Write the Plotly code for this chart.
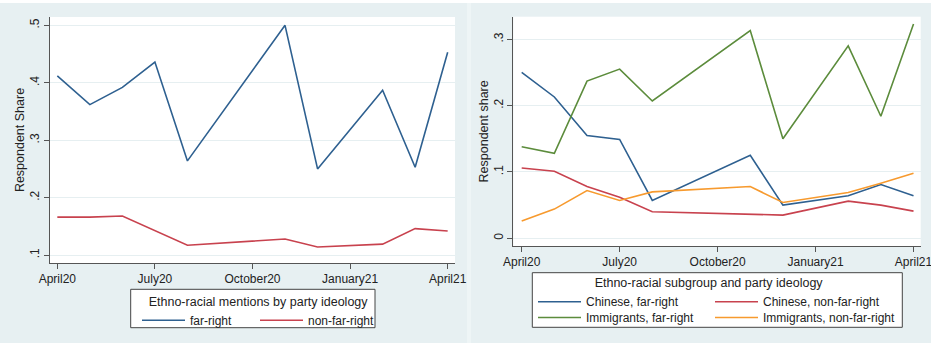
import plotly.graph_objects as go

# ---- data ----
all_months = ["April20", "May20", "June20", "July20", "August20", "September20",
              "October20", "November20", "December20", "January21", "February21",
              "March21", "April21"]
obs_months = ["April20", "May20", "June20", "July20", "August20", "November20",
              "December20", "February21", "March21", "April21"]
tick_labels = ["April20", "July20", "October20", "January21", "April21"]

# Left panel: ethno-racial mentions by party ideology
far_right = [0.412, 0.362, 0.392, 0.436, 0.264, 0.500, 0.250, 0.387, 0.253, 0.453]
non_far_right = [0.166, 0.166, 0.168, 0.142, 0.117, 0.128, 0.114, 0.119, 0.146, 0.142]

# Right panel: subgroup by party ideology
chinese_fr = [0.250, 0.213, 0.155, 0.149, 0.057, 0.125, 0.050, 0.064, 0.081, 0.064]
chinese_nfr = [0.106, 0.101, 0.078, 0.062, 0.040, 0.037, 0.035, 0.056, 0.050, 0.041]
immig_fr = [0.138, 0.128, 0.237, 0.255, 0.207, 0.313, 0.150, 0.290, 0.184, 0.323]
immig_nfr = [0.026, 0.044, 0.072, 0.057, 0.070, 0.078, 0.054, 0.069, 0.083, 0.098]

left_yticks = [0.1, 0.2, 0.3, 0.4, 0.5]
left_yticklabels = [".1", ".2", ".3", ".4", ".5"]
right_yticks = [0, 0.1, 0.2, 0.3]
right_yticklabels = ["0", ".1", ".2", ".3"]

# ---- styles ----
W, H = 931, 343
BLUE = "#2e6090"
RED = "#c8424e"
GREEN = "#5c8c3c"
ORANGE = "#f79a2e"
FONT = "Liberation Sans, Arial, sans-serif"

x_obs = [all_months.index(m) for m in obs_months]
tick_x = [all_months.index(m) for m in tick_labels]


def px(x):
    return x / W


def py(y):
    return 1 - y / H


fig = go.Figure()

lw = 1.6
fig.add_trace(go.Scatter(x=x_obs, y=far_right, mode="lines", name="far-right",
                         line=dict(color=BLUE, width=lw), xaxis="x", yaxis="y",
                         legend="legend", legendwidth=60))
fig.add_trace(go.Scatter(x=x_obs, y=non_far_right, mode="lines", name="non-far-right",
                         line=dict(color=RED, width=lw), xaxis="x", yaxis="y",
                         legend="legend"))

fig.add_trace(go.Scatter(x=x_obs, y=chinese_fr, mode="lines", name="Chinese, far-right",
                         line=dict(color=BLUE, width=lw), xaxis="x2", yaxis="y2",
                         legend="legend2", legendwidth=119))
fig.add_trace(go.Scatter(x=x_obs, y=chinese_nfr, mode="lines", name="Chinese, non-far-right",
                         line=dict(color=RED, width=lw), xaxis="x2", yaxis="y2",
                         legend="legend2"))
fig.add_trace(go.Scatter(x=x_obs, y=immig_fr, mode="lines", name="Immigrants, far-right",
                         line=dict(color=GREEN, width=lw), xaxis="x2", yaxis="y2",
                         legend="legend3", legendwidth=119))
fig.add_trace(go.Scatter(x=x_obs, y=immig_nfr, mode="lines", name="Immigrants, non-far-right",
                         line=dict(color=ORANGE, width=lw), xaxis="x2", yaxis="y2",
                         legend="legend3"))

axis_common = dict(showline=True, linecolor="#555", linewidth=1, ticks="outside",
                   ticklen=5, tickcolor="#555", tickfont=dict(size=12, color="#222"),
                   zeroline=False, automargin=False, ticklabeloverflow="allow")

fig.update_layout(
    width=W, height=H,
    margin=dict(l=0, r=0, t=0, b=0),
    paper_bgcolor="#e7f0f2",
    plot_bgcolor="white",
    font=dict(family=FONT, size=12, color="#222"),
    xaxis=dict(domain=[px(50), px(455)], range=[-0.225, 12.225],
               tickvals=tick_x, ticktext=tick_labels, showgrid=False,
               anchor="y", **axis_common),
    yaxis=dict(domain=[py(263), py(17)], range=[0.0862, 0.5145],
               tickvals=left_yticks, ticktext=left_yticklabels, tickangle=-90,
               ticklabelstandoff=0,
               showgrid=True, gridcolor="#e6eff1", gridwidth=1,
               title=dict(text="Respondent Share", font=dict(size=12.5), standoff=0),
               anchor="x", **axis_common),
    xaxis2=dict(domain=[px(513.3), px(920.7)], range=[-0.257, 12.22],
                tickvals=tick_x, ticktext=tick_labels, showgrid=False,
                anchor="y2", **axis_common),
    yaxis2=dict(domain=[py(246), py(16.7)], range=[-0.0116, 0.334],
                tickvals=right_yticks, ticktext=right_yticklabels, tickangle=-90,
                ticklabelstandoff=0,
                showgrid=True, gridcolor="#e6eff1", gridwidth=1,
                title=dict(text="Respondent share", font=dict(size=12.5), standoff=0),
                anchor="x2", **axis_common),
    legend=dict(orientation="h", x=px(137), xanchor="left", y=py(289.5), yanchor="top",
                bgcolor="rgba(0,0,0,0)", borderwidth=0, itemwidth=43,
                font=dict(size=12),
                title=dict(text="Ethno-racial mentions by party ideology",
                           side="top center", font=dict(size=12.5))),
    legend2=dict(orientation="h", x=px(533), xanchor="left", y=py(271), yanchor="top",
                 bgcolor="rgba(0,0,0,0)", borderwidth=0, itemwidth=43,
                 font=dict(size=12),
                 title=dict(text="Ethno-racial subgroup and party ideology",
                            side="top center", font=dict(size=12.5))),
    legend3=dict(orientation="h", x=px(533), xanchor="left", y=py(303), yanchor="top",
                 bgcolor="rgba(0,0,0,0)", borderwidth=0, itemwidth=43,
                 font=dict(size=12)),
    showlegend=True,
)

shapes = [
    # white strip on top
    dict(type="rect", xref="paper", yref="paper", x0=0, x1=1, y0=py(3), y1=1,
         fillcolor="white", line=dict(width=0), layer="below"),
    # gap between panels
    dict(type="rect", xref="paper", yref="paper", x0=px(467), x1=px(471), y0=0, y1=py(3),
         fillcolor="#eef5f6", line=dict(width=0), layer="below"),
    # legend boxes
    dict(type="rect", xref="paper", yref="paper", x0=px(130.7), x1=px(375),
         y0=py(327.7), y1=py(289.3), fillcolor="white",
         line=dict(color="#444", width=1), layer="above"),
    dict(type="rect", xref="paper", yref="paper", x0=px(532.3), x1=px(902.3),
         y0=py(327.3), y1=py(272.7), fillcolor="white",
         line=dict(color="#444", width=1), layer="above"),
]
fig.update_layout(shapes=shapes)

fig.write_html("out.html", config={"displayModeBar": False},
               post_script="document.body.style.margin='0';")
